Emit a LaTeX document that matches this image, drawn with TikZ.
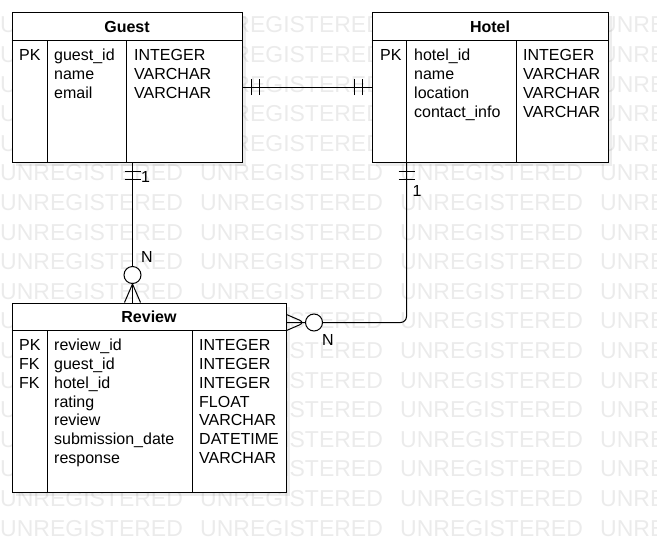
\documentclass[tikz,border=0pt]{standalone}
\usepackage{fontspec}
\setmainfont{Liberation Sans}
\usetikzlibrary{calc,decorations.markings,shadows}

\tikzset{
  entity/.style={draw, fill=white, line width=1pt, inner sep=0pt,
    drop shadow={shadow xshift=4pt, shadow yshift=-4pt, fill=black, opacity=0.07}},
  etitle/.style={font=\bfseries\fontsize{16}{19}\selectfont, inner sep=0pt},
  field/.style={font=\fontsize{16}{19}\selectfont, inner sep=0pt, anchor=base west},
  lbl/.style={font=\fontsize{16}{19}\selectfont, inner sep=0pt},
  wmark/.style={font=\fontsize{23}{27}\selectfont, text=black!8, inner sep=0pt, anchor=west},
  rel/.style={line width=1pt},
  onestart/.style={postaction={decorate, decoration={markings,
      mark=at position 9pt with {\draw[line width=1pt] (0,-8pt) -- (0,8pt);},
      mark=at position 17pt with {\draw[line width=1pt] (0,-8pt) -- (0,8pt);}}}},
  oneend/.style={postaction={decorate, decoration={markings,
      mark=at position -17pt with {\draw[line width=1pt] (0,-8pt) -- (0,8pt);},
      mark=at position -9pt with {\draw[line width=1pt] (0,-8pt) -- (0,8pt);}}}},
  manyend/.style={postaction={decorate, decoration={markings,
      mark=at position -27.5pt with {\draw[line width=1pt, fill=white] (0,0) circle (8.5pt);
        \draw[line width=1pt] (27.5pt,8pt) -- (9pt,0) -- (27.5pt,-8pt);}}}},
}

\begin{document}
\begin{tikzpicture}[x=1pt, y=-1pt]
\useasboundingbox (0,0) rectangle (657,542);

% watermark
\begin{scope}
  \clip (0,0) rectangle (657,542);
  \foreach \r in {0,...,17}
    \foreach \c in {0,...,3}
      \node[wmark] (wm\r-\c) at (200*\c, 25+29.6*\r) {UNREGISTERED};
\end{scope}

% entities
\node[entity, minimum width=230pt, minimum height=150pt] (guest) at (127,87) {};
\node[entity, minimum width=236pt, minimum height=150pt] (hotel) at (490,87) {};
\node[entity, minimum width=274pt, minimum height=189pt] (review) at (149,397.5) {};

\node[etitle] (guestname) at (127,26.5) {Guest};
\node[etitle] (hotelname) at (490,26.5) {Hotel};
\node[etitle] (reviewname) at (149,317) {Review};

\draw[line width=1pt] ([yshift=-29pt]guest.north west) -- ([yshift=-29pt]guest.north east);
\draw[line width=1pt] ([xshift=35.5pt,yshift=-29pt]guest.north west) -- ([xshift=35.5pt]guest.south west);
\draw[line width=1pt] ([xshift=115pt,yshift=-29pt]guest.north west) -- ([xshift=115pt]guest.south west);

\draw[line width=1pt] ([yshift=-29pt]hotel.north west) -- ([yshift=-29pt]hotel.north east);
\draw[line width=1pt] ([xshift=35pt,yshift=-29pt]hotel.north west) -- ([xshift=35pt]hotel.south west);
\draw[line width=1pt] ([xshift=145pt,yshift=-29pt]hotel.north west) -- ([xshift=145pt]hotel.south west);

\draw[line width=1pt] ([yshift=-28pt]review.north west) -- ([yshift=-28pt]review.north east);
\draw[line width=1pt] ([xshift=36pt,yshift=-28pt]review.north west) -- ([xshift=36pt]review.south west);
\draw[line width=1pt] ([xshift=181pt,yshift=-28pt]review.north west) -- ([xshift=181pt]review.south west);

% Guest
\node[field] (gk1) at (19,60) {PK};
\foreach \f [count=\i] in {guest\_id,name,email}
  \node[field] (gf\i) at (54,41+19*\i) {\f};
\foreach \t [count=\i] in {INTEGER,VARCHAR,VARCHAR}
  \node[field] (gt\i) at (134,41+19*\i) {\t};

% Hotel
\node[field] (hk1) at (380,60) {PK};
\foreach \f [count=\i] in {hotel\_id,name,location,contact\_info}
  \node[field] (hf\i) at (414,41+19*\i) {\f};
\foreach \t [count=\i] in {INTEGER,VARCHAR,VARCHAR,VARCHAR}
  \node[field] (ht\i) at (523,41+19*\i) {\t};

% Review
\foreach \k [count=\i] in {PK,FK,FK}
  \node[field] (rk\i) at (19,331.65+18.85*\i) {\k};
\foreach \f [count=\i] in {review\_id,guest\_id,hotel\_id,rating,review,submission\_date,response}
  \node[field] (rf\i) at (54,331.65+18.85*\i) {\f};
\foreach \t [count=\i] in {INTEGER,INTEGER,INTEGER,FLOAT,VARCHAR,DATETIME,VARCHAR}
  \node[field] (rt\i) at (199,331.65+18.85*\i) {\t};

% relations
\draw[rel, onestart, oneend] (guest.east) -- (hotel.west);
\draw[rel, onestart, manyend] ([xshift=5.5pt]guest.south) -- ([xshift=5.5pt]guest.south |- review.north);
\draw[rel, rounded corners=6pt, onestart, manyend] ([xshift=35pt]hotel.south west) |- ([yshift=-20pt]review.north east);

\node[lbl] (g1) at (145.5,177) {1};
\node[lbl] (gN) at (147,257) {N};
\node[lbl] (h1) at (417,191) {1};
\node[lbl] (hN) at (328,340) {N};

\end{tikzpicture}
\end{document}
